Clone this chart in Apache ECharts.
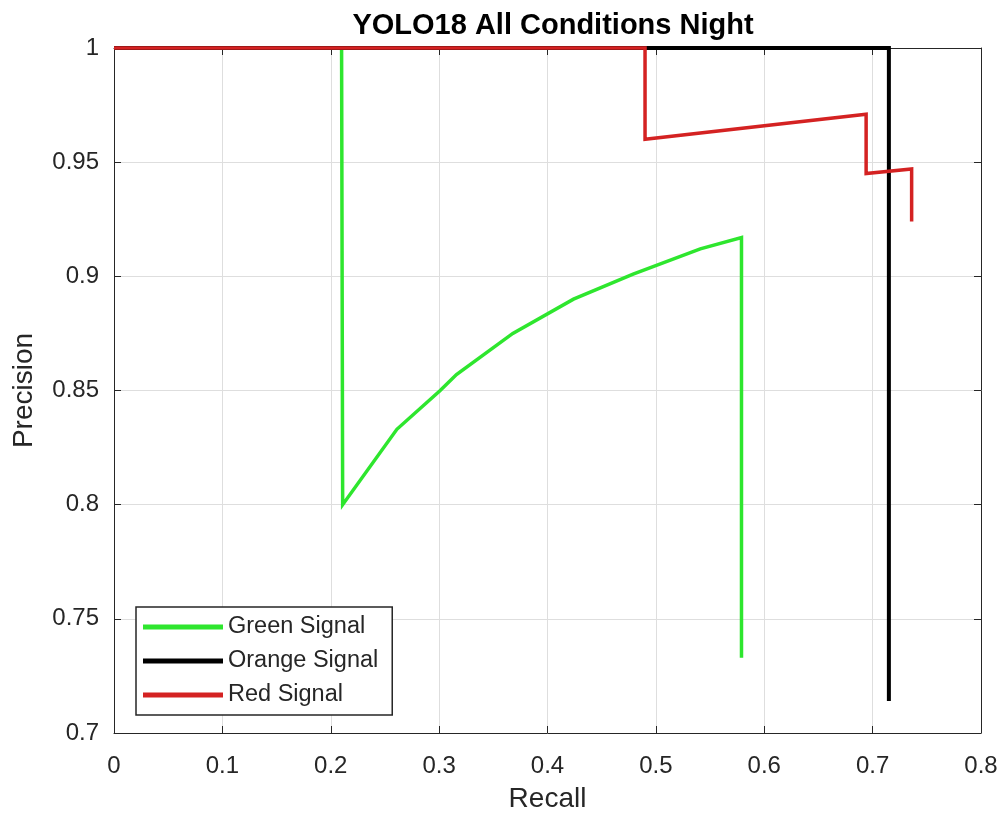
<!DOCTYPE html>
<html>
<head>
<meta charset="utf-8">
<script src="https://cdn.jsdelivr.net/npm/echarts@6/dist/echarts.min.js"></script>
<style>html,body{margin:0;padding:0;background:#fff}#c{width:1006px;height:819px}</style>
</head>
<body>
<div id="c"></div>
<script>
var titleText = 'YOLO18 All Conditions Night';
var seriesNames = ['Green Signal', 'Orange Signal', 'Red Signal'];
var greenRecall    = [0, 0.21, 0.211, 0.261, 0.301, 0.316, 0.368, 0.424, 0.479, 0.541, 0.579, 0.579];
var greenPrecision = [1, 1, 0.800, 0.833, 0.850, 0.857, 0.875, 0.890, 0.901, 0.912, 0.917, 0.733];
var orangeRecall    = [0, 0.715, 0.715];
var orangePrecision = [1, 1, 0.714];
var redRecall    = [0, 0.490, 0.490, 0.694, 0.694, 0.736, 0.736];
var redPrecision = [1, 1, 0.960, 0.971, 0.945, 0.947, 0.924];

function pairs(xs, ys) { return xs.map(function (x, i) { return [x, ys[i]]; }); }

var font = 'Liberation Sans, Arial, Helvetica, sans-serif';
var colors = ['#2ee62e', '#000000', '#d42222'];
var widths = [3.5, 4, 3.5];
var datas = [pairs(greenRecall, greenPrecision), pairs(orangeRecall, orangePrecision), pairs(redRecall, redPrecision)];

var chart = echarts.init(document.getElementById('c'));
chart.setOption({
  animation: false,
  backgroundColor: '#ffffff',
  title: {
    text: titleText, left: 548, top: 6, textAlign: 'center',
    textStyle: { fontFamily: font, fontSize: 29, fontWeight: 'bold', color: '#000' }
  },
  grid: { left: 114, right: 25, top: 48, bottom: 86, show: false },
  legend: {
    data: seriesNames, orient: 'vertical', left: 136, top: 607,
    icon: 'rect', itemWidth: 80, itemHeight: 5, itemGap: 10,
    padding: [8, 14, 8, 7],
    borderColor: '#262626', borderWidth: 1.5, backgroundColor: '#fff',
    textStyle: { fontFamily: font, fontSize: 23.5, color: '#262626' }
  },
  xAxis: [{
    type: 'value', min: 0, max: 0.8, interval: 0.1, position: 'bottom',
    name: 'Recall', nameLocation: 'middle', nameGap: 52,
    nameTextStyle: { fontFamily: font, fontSize: 28, color: '#262626' },
    axisLine: { show: true, onZero: false, lineStyle: { color: '#262626', width: 1 } },
    axisTick: { show: true, inside: true, length: 7, lineStyle: { color: '#262626' } },
    axisLabel: { fontFamily: font, fontSize: 24, color: '#262626', margin: 21 },
    splitLine: { show: true, lineStyle: { color: '#dedede', width: 1 } }
  }, {
    type: 'value', min: 0, max: 0.8, interval: 0.1, position: 'top',
    axisLine: { show: true, onZero: false, lineStyle: { color: '#262626', width: 1 } },
    axisTick: { show: true, inside: true, length: 7, lineStyle: { color: '#262626' } },
    axisLabel: { show: false }, splitLine: { show: false }
  }],
  yAxis: [{
    type: 'value', min: 0.7, max: 1, interval: 0.05, position: 'left',
    name: 'Precision', nameLocation: 'middle', nameGap: 76,
    nameTextStyle: { fontFamily: font, fontSize: 28, color: '#262626' },
    axisLine: { show: true, onZero: false, lineStyle: { color: '#262626', width: 1 } },
    axisTick: { show: true, inside: true, length: 7, lineStyle: { color: '#262626' } },
    axisLabel: { fontFamily: font, fontSize: 24, color: '#262626', margin: 15 },
    splitLine: { show: true, lineStyle: { color: '#dedede', width: 1 } }
  }, {
    type: 'value', min: 0.7, max: 1, interval: 0.05, position: 'right',
    axisLine: { show: true, onZero: false, lineStyle: { color: '#262626', width: 1 } },
    axisTick: { show: true, inside: true, length: 7, lineStyle: { color: '#262626' } },
    axisLabel: { show: false }, splitLine: { show: false }
  }],
  series: seriesNames.map(function (n, i) {
    return {
      name: n, type: 'line', data: datas[i], showSymbol: false, symbol: 'none',
      xAxisIndex: 0, yAxisIndex: 0, clip: false, z: 2 + i,
      color: colors[i],
      lineStyle: { color: colors[i], width: widths[i], join: 'miter' }
    };
  })
});
</script>
</body>
</html>
